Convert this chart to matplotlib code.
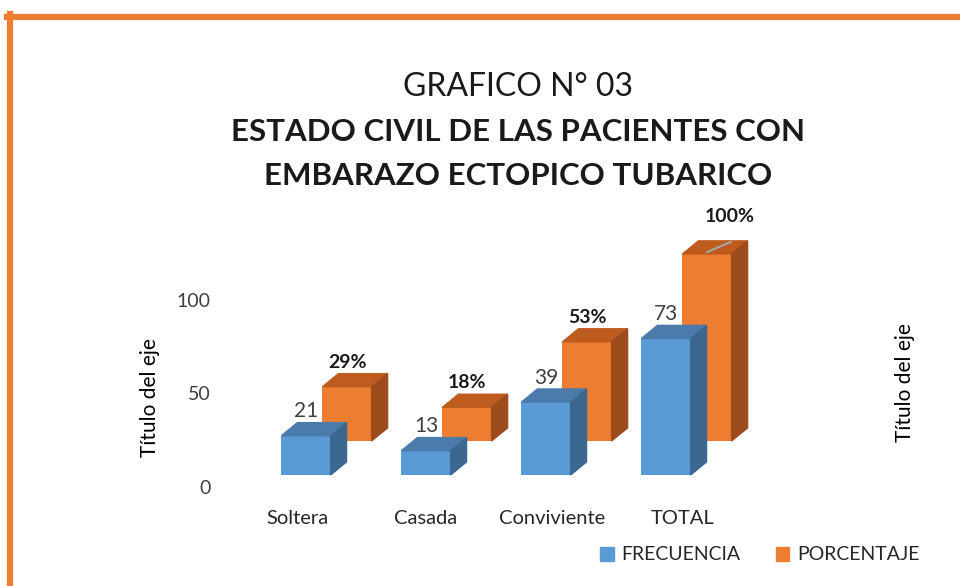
import matplotlib
matplotlib.use('Agg')
import matplotlib.pyplot as plt
from matplotlib.patches import Polygon, Patch
from matplotlib.lines import Line2D
import numpy as np

plt.rcParams['font.family'] = ['Lato', 'DejaVu Sans']

categorias = ['Soltera', 'Casada', 'Conviviente', 'TOTAL']
frecuencia = [21, 13, 39, 73]
porcentaje = [29, 18, 53, 100]
etiquetas_pct = ['29%', '18%', '53%', '100%']
yticks = [0, 50, 100]

azul, azul_top, azul_side = '#5B9BD5', '#4A7BAA', '#3B6790'
naranja, naranja_top, naranja_side = '#ED7D31', '#BE5B1E', '#9D4C1C'

fig = plt.figure(figsize=(9.6, 5.86), dpi=100)
ax = fig.add_axes([230 / 960, 56 / 586, 600 / 960, 330 / 586])
# eje solo para las etiquetas del eje y (desplazado hacia abajo como en el 3D)
ax_y = fig.add_axes([230 / 960, 44 / 586, 600 / 960, 330 / 586])
ax_y.patch.set_visible(False)

w = 0.41      # ancho del frente de la barra
ddx, ddy = 0.133, 7.0   # profundidad 3D
sx, sy = 0.342, 18.2    # desplazamiento de la serie de atras
x = np.arange(len(categorias))


def barra3d(xc, base, val, c_front, c_top, c_side, z):
    ax.bar(xc, val, width=w, bottom=base, color=c_front, zorder=z)
    l, r, t = xc - w / 2, xc + w / 2, base + val
    ax.add_patch(Polygon([(l, t), (r, t), (r + ddx, t + ddy), (l + ddx, t + ddy)],
                         closed=True, color=c_top, zorder=z))
    ax.add_patch(Polygon([(r, base), (r + ddx, base + ddy), (r + ddx, t + ddy), (r, t)],
                         closed=True, color=c_side, zorder=z))


# serie de atras (porcentaje)
for i, v in enumerate(porcentaje):
    barra3d(x[i] + sx, sy, v, naranja, naranja_top, naranja_side, 1)
# serie de adelante (frecuencia)
for i, v in enumerate(frecuencia):
    barra3d(x[i], 0, v, azul, azul_top, azul_side, 2)

# etiquetas de datos
for i, v in enumerate(frecuencia):
    ax.text(x[i], v + ddy + 6, str(v), ha='center', va='center',
            fontsize=15, color='#404040', zorder=5)
for i, v in enumerate(porcentaje):
    xt, yt = x[i] + sx, sy + v + ddy + 6
    if v == 100:
        # etiqueta movida, con linea guia
        ax.plot([x[i] + sx, x[i] + sx + 0.2], [sy + v + 1, sy + v + ddy - 0.5],
                color='#A6A6A6', lw=1.5, zorder=4)
        xt, yt = x[i] + sx + 0.19, sy + v + ddy + 13
    ax.text(xt, yt, etiquetas_pct[i], ha='center', va='center',
            fontsize=14, fontweight='bold', color='#1a1a1a', zorder=5)

xlim = (-(306 - 230) / 120, (830 - 306) / 120)
ylim = (-55 / 1.87, 275 / 1.87)
ax.set_xlim(*xlim)
ax.set_ylim(*ylim)
ax_y.set_xlim(*xlim)
ax_y.set_ylim(*ylim)

ax.set_yticks([])
ax_y.set_xticks([])
ax_y.set_yticks(yticks)
ax_y.set_yticklabels([str(t) for t in yticks], fontsize=14, color='#404040')
ax_y.tick_params(length=0, pad=14)

ax.set_xticks(x + np.array([-0.07, 0.0, 0.05, 0.14]))
ax.set_xticklabels(categorias, fontsize=14.5, color='#262626')
ax.tick_params(length=0, axis='x', pad=-14.5)

for a in (ax, ax_y):
    for s in a.spines.values():
        s.set_visible(False)

# titulos de eje
fig.text(150 / 960, 1 - 398 / 586, 'Título del eje', rotation=90, ha='center', va='center',
         fontsize=15, color='#000000')
fig.text(905 / 960, 1 - 383 / 586, 'Título del eje', rotation=90, ha='center', va='center',
         fontsize=15, color='#000000')

# titulo
fig.text(518 / 960, 1 - 87 / 586, 'GRAFICO N° 03', ha='center', va='center',
         fontsize=23, color='#1a1a1a')
fig.text(518 / 960, 1 - 132 / 586, 'ESTADO CIVIL DE LAS PACIENTES CON', ha='center',
         va='center', fontsize=22.5, fontweight='bold', color='#1a1a1a')
fig.text(518 / 960, 1 - 176 / 586, 'EMBARAZO ECTOPICO TUBARICO', ha='center',
         va='center', fontsize=22.5, fontweight='bold', color='#1a1a1a')

# leyenda
handles = [Patch(color=azul, label='FRECUENCIA'), Patch(color=naranja, label='PORCENTAJE')]
fig.legend(handles=handles, loc='center', bbox_to_anchor=(760 / 960, 1 - 555 / 586),
           ncol=2, frameon=False, fontsize=14, handlelength=0.7, handleheight=0.7,
           handletextpad=0.4, columnspacing=1.8, labelcolor='#262626')

# borde naranja
fig.add_artist(Line2D([7 / 960, 1], [1 - 17 / 586, 1 - 17 / 586], color=naranja, lw=4.5,
                      transform=fig.transFigure))
fig.add_artist(Line2D([10 / 960, 10 / 960], [1 - 14 / 586, 0], color=naranja, lw=4.5,
                      transform=fig.transFigure))

fig.savefig('out.png', dpi=100)
